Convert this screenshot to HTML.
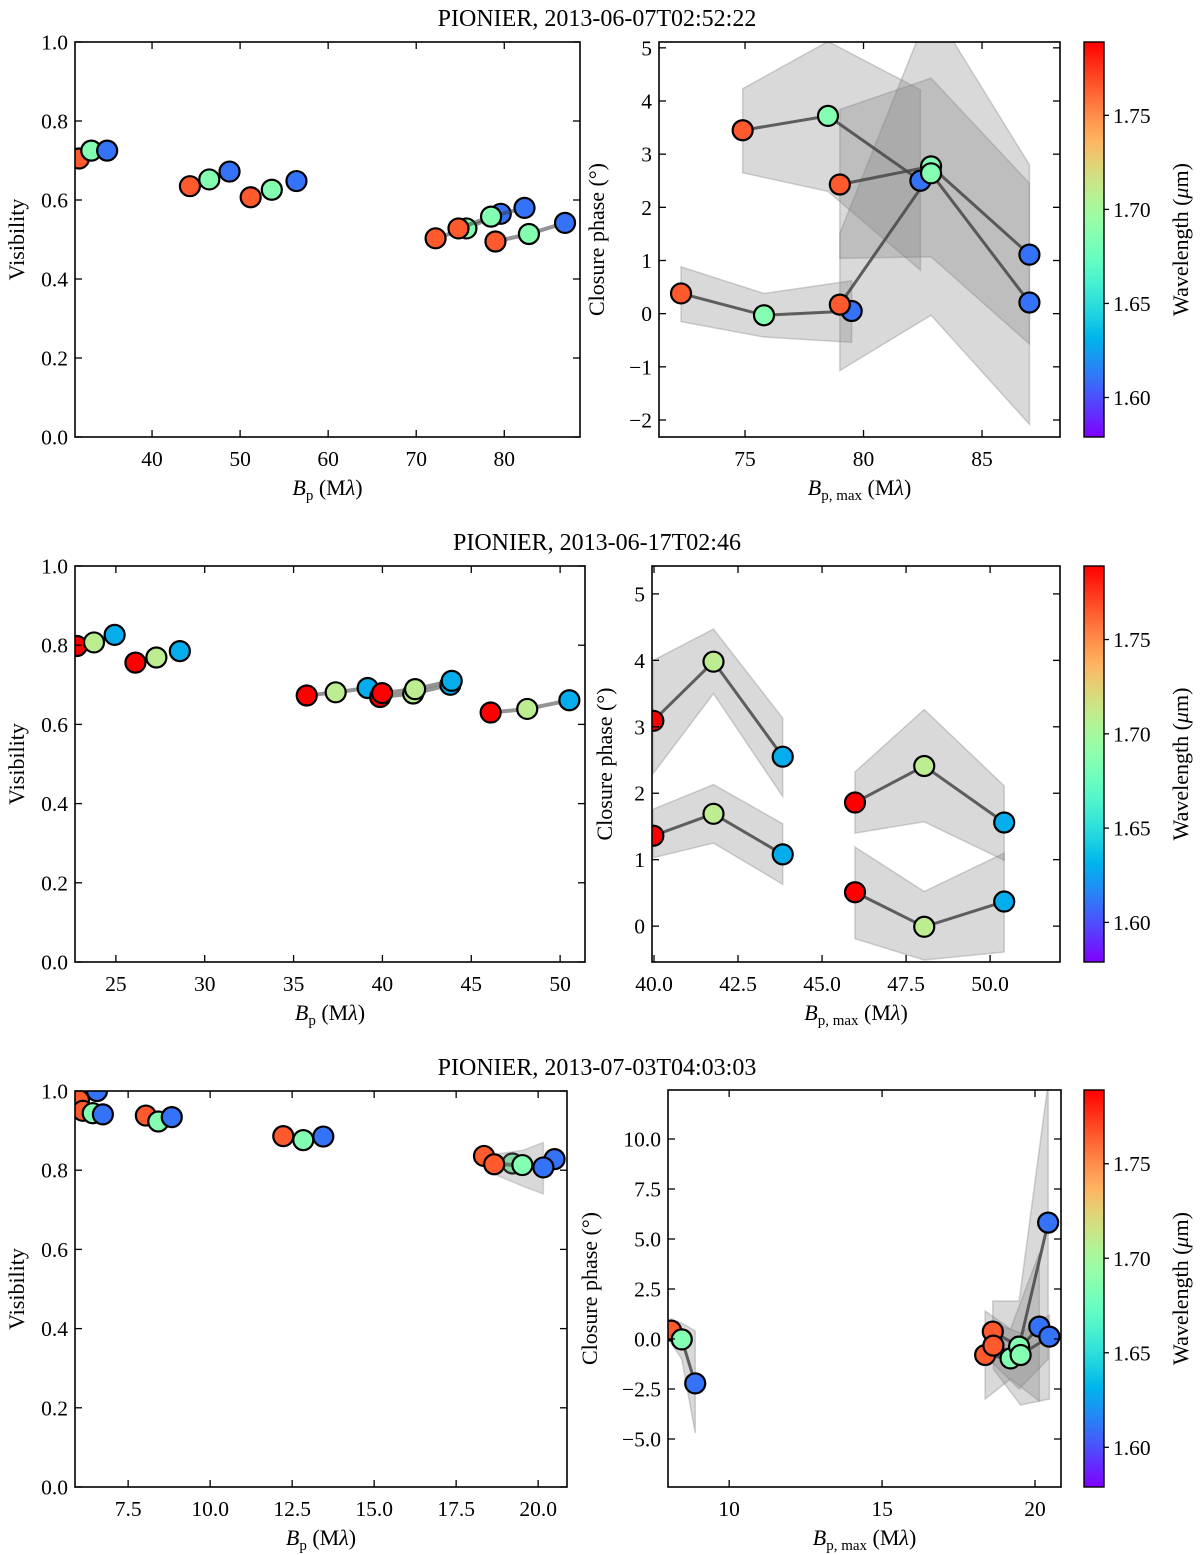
<!DOCTYPE html>
<html><head><meta charset="utf-8">
<style>
html,body{margin:0;padding:0;background:#fff;}
svg{display:block;font-family:"Liberation Serif","DejaVu Serif",serif;}
</style></head>
<body>
<svg id="fig" width="1200" height="1555" viewBox="0 0 1200 1555" xmlns="http://www.w3.org/2000/svg">
<defs id="defs"></defs>
<text x="597" y="26" font-size="24" text-anchor="middle">PIONIER, 2013-06-07T02:52:22</text>
<text x="597" y="550" font-size="24" text-anchor="middle">PIONIER, 2013-06-17T02:46</text>
<text x="597" y="1075" font-size="24" text-anchor="middle">PIONIER, 2013-07-03T04:03:03</text>
</svg>
<script>
// ---------- data ----------
const lamR1 = [1.765, 1.686, 1.610];
const lamR2 = [1.789, 1.709, 1.629];
const vis1B = [31.7,33.1,34.9, 44.3,46.5,48.8, 51.2,53.6,56.4, 72.2,75.7,79.6, 74.8,78.5,82.3, 79.0,82.8,86.9];
const vis1V = [0.705,0.725,0.725, 0.635,0.652,0.672, 0.607,0.626,0.648, 0.503,0.528,0.565, 0.528,0.558,0.580, 0.495,0.514,0.542];
const vis1Lines = [false,false,false,true,true,true];
const cp1B = [[72.3,75.8,79.5],[74.9,78.5,82.4],[79.0,82.85,87.0],[79.0,82.85,87.0]];
const cp1V = [[0.38,-0.03,0.05],[3.45,3.72,2.50],[2.43,2.77,1.11],[0.17,2.64,0.21]];
const cp1Hi = [[0.88,0.38,0.62],[4.23,5.12,4.21],[3.84,4.43,2.45],[1.51,5.8,2.8]];
const cp1Lo = [[-0.15,-0.44,-0.54],[2.65,2.30,0.82],[1.04,1.07,-0.57],[-1.07,-0.03,-2.08]];
const vis2B = [22.8,23.77,24.93, 26.1,27.28,28.6, 35.74,37.37,39.17, 39.87,41.73,43.82, 39.98,41.84,43.9, 46.09,48.15,50.52];
const vis2V = [0.798,0.807,0.826, 0.756,0.769,0.785, 0.673,0.681,0.692, 0.669,0.678,0.700, 0.679,0.689,0.710, 0.630,0.639,0.661];
const vis2Lines = [false,false,true,true,true,true];
const cp2B = [[39.98,41.77,43.83],[39.98,41.77,43.83],[45.98,48.04,50.42],[45.98,48.04,50.42]];
const cp2V = [[3.09,3.98,2.55],[1.36,1.69,1.08],[1.86,2.41,1.56],[0.51,-0.01,0.37]];
const cp2Hi = [[4.0,4.47,3.13],[1.76,2.13,1.54],[2.32,3.26,2.11],[1.19,0.52,1.10]];
const cp2Lo = [[2.3,3.5,1.95],[1.03,1.25,0.63],[1.40,1.57,0.99],[-0.19,-0.51,-0.39]];
const vis3B = [6.0,6.42,6.55, 6.12,6.42,6.73, 8.04,8.42,8.83, 12.23,12.84,13.45, 18.35,19.22,20.5, 18.66,19.52,20.16];
const vis3V = [0.977,0.944,1.0, 0.95,0.944,0.941, 0.938,0.923,0.934, 0.886,0.876,0.885, 0.836,0.817,0.828, 0.815,0.813,0.807];
const vis3Lines = [false,false,false,false,false,true];
const vis3BandHi = [0.84,0.85,0.87];
const vis3BandLo = [0.79,0.76,0.74];
const cp3B = [[8.1,8.45,8.89],[18.37,19.2,20.14],[18.62,19.48,20.43],[18.64,19.53,20.47]];
const cp3V = [[0.42,-0.02,-2.22],[-0.8,-0.97,0.62],[0.37,-0.38,5.82],[-0.33,-0.8,0.12]];
const cp3Hi = [[1.0,0.8,0.4],[1.4,0.5,4.3],[1.9,1.9,12.8],[0.8,0.3,1.2]];
const cp3Lo = [[-0.2,-1.0,-4.7],[-3.0,-2.0,-3.1],[-1.2,-2.5,-1.0],[-1.5,-3.3,-3.0]];

const lamMin = 1.579, lamMax = 1.789;
const cbTicks = [1.60,1.65,1.70,1.75];

// ---------- helpers ----------
const NS = "http://www.w3.org/2000/svg";
const svg = document.getElementById('fig');
const defs = document.getElementById('defs');
function mk(tag, attrs, parent){
  const e = document.createElementNS(NS, tag);
  for (const k in attrs) e.setAttribute(k, attrs[k]);
  (parent||svg).appendChild(e);
  return e;
}
function rainbow(l){
  let x = (l - lamMin)/(lamMax - lamMin); x = Math.max(0, Math.min(1, x));
  const r = Math.min(1, Math.abs(2*x - 0.5));
  const g = Math.sin(Math.PI*x);
  const b = Math.cos(Math.PI/2*x);
  const h = v => Math.round(Math.max(0,Math.min(1,v))*255);
  return `rgb(${h(r)},${h(g)},${h(b)})`;
}
function fmt(v, d){ return (v<0?"\u2212":"") + Math.abs(v).toFixed(d); }

function makePanel(p){
  p.sx = v => p.x0 + (v - p.xmin)/(p.xmax - p.xmin)*(p.x1 - p.x0);
  p.sy = v => p.y1 - (v - p.ymin)/(p.ymax - p.ymin)*(p.y1 - p.y0);
  const cp = mk('clipPath', {id: p.id + '-clip'}, defs);
  mk('rect', {x:p.x0, y:p.y0, width:p.x1-p.x0, height:p.y1-p.y0}, cp);
  const g = mk('g', {});
  
  
  p.g = g;
  p.plot = mk('g', {'clip-path': `url(#${p.id}-clip)`}, g);
  return p;
}
function drawAxes(p){
  const g = mk('g', {}, p.g);
  
  
  p.xticks.forEach(t => {
    const x = p.sx(t);
    mk('line', {x1:x, x2:x, y1:p.y1, y2:p.y1-7, stroke:'#000', 'stroke-width':1.3}, g);
    mk('line', {x1:x, x2:x, y1:p.y0, y2:p.y0+7, stroke:'#000', 'stroke-width':1.3}, g);
    const tx = mk('text', {x:x, y:p.y1+29, 'font-size':21.5, 'text-anchor':'middle'}, g);
    
    
    tx.textContent = fmt(t, p.xd);
  });
  p.yticks.forEach(t => {
    const y = p.sy(t);
    mk('line', {x1:p.x0, x2:p.x0+7, y1:y, y2:y, stroke:'#000', 'stroke-width':1.3}, g);
    mk('line', {x1:p.x1, x2:p.x1-7, y1:y, y2:y, stroke:'#000', 'stroke-width':1.3}, g);
    const ty = mk('text', {x:p.x0-7, y:y+7.5, 'font-size':21.5, 'text-anchor':'end'}, g);
    
    
    ty.textContent = fmt(t, p.yd);
  });
  mk('rect', {x:p.x0, y:p.y0, width:p.x1-p.x0, height:p.y1-p.y0, fill:'none', stroke:'#000', 'stroke-width':1.6}, g);
  const xl = mk('text', {x:(p.x0+p.x1)/2, y:p.y1+58, 'font-size':22, 'text-anchor':'middle'}, g);
  
  
  xl.innerHTML = p.cp
    ? '<tspan font-style="italic">B</tspan><tspan font-size="15" dy="5">p, max</tspan><tspan dy="-5"> (M</tspan><tspan font-style="italic">λ</tspan><tspan>)</tspan>'
    : '<tspan font-style="italic">B</tspan><tspan font-size="15" dy="5">p</tspan><tspan dy="-5"> (M</tspan><tspan font-style="italic">λ</tspan><tspan>)</tspan>';
  const yc = (p.y0+p.y1)/2;
  const yl = mk('text', {x:p.ylx, y:yc, 'font-size':22, 'text-anchor':'middle', transform:`rotate(-90 ${p.ylx} ${yc})`}, g);
  
  
  yl.textContent = p.cp ? 'Closure phase (°)' : 'Visibility';
}
function dot(p, x, y, col){
  const c = mk('circle', {cx:p.sx(x), cy:p.sy(y), r:10, fill:col, stroke:'#000', 'stroke-width':2.2}, p.plot);
  
  
}
function drawVis(p, B, V, lines, lam, band){
  for (let t = 0; t < B.length/3; t++){
    const xs = B.slice(t*3, t*3+3), ys = V.slice(t*3, t*3+3);
    if (band && t === B.length/3 - 1){
      const pts = xs.map((x,i)=>p.sx(x)+','+p.sy(band[0][i])).concat(xs.slice().reverse().map((x,i)=>p.sx(x)+','+p.sy(band[1][2-i])));
      const pg = mk('polygon', {points:pts.join(' '), fill:'rgba(128,128,128,0.3)', stroke:'rgba(128,128,128,0.3)', 'stroke-width':1.5}, p.plot);
      
      
    }
    if (lines[t]){
      const pl = mk('polyline', {points:xs.map((x,i)=>p.sx(x)+','+p.sy(ys[i])).join(' '), fill:'none', stroke:'rgba(60,60,60,0.55)', 'stroke-width':4}, p.plot);
      
      
    }
    xs.forEach((x,i)=>dot(p, x, ys[i], rainbow(lam[i])));
  }
}
function drawCP(p, B, V, Hi, Lo, lam){
  B.forEach((xs, t) => {
    const pts = xs.map((x,i)=>p.sx(x)+','+p.sy(Hi[t][i])).concat(xs.map((x,i)=>i).reverse().map(i=>p.sx(xs[i])+','+p.sy(Lo[t][i])));
    const pg = mk('polygon', {points:pts.join(' '), fill:'rgba(128,128,128,0.3)', stroke:'rgba(128,128,128,0.35)', 'stroke-width':1.5}, p.plot);
    
    
  });
  B.forEach((xs, t) => {
    const pl = mk('polyline', {points:xs.map((x,i)=>p.sx(x)+','+p.sy(V[t][i])).join(' '), fill:'none', stroke:'rgba(70,70,70,0.85)', 'stroke-width':3}, p.plot);
    
    
  });
  B.forEach((xs, t) => xs.forEach((x,i)=>dot(p, x, V[t][i], rainbow(lam[i]))));
}
function colorbar(id, y0, y1){
  const x0 = 1084, x1 = 1104;
  const gid = id + '-grad';
  const lg = mk('linearGradient', {id:gid, x1:0, y1:1, x2:0, y2:0}, defs);
  for (let i = 0; i <= 20; i++){
    const l = lamMin + (lamMax-lamMin)*i/20;
    mk('stop', {offset:(i/20), 'stop-color':rainbow(l)}, lg);
  }
  const g = mk('g', {});
  
  
  mk('rect', {x:x0, y:y0, width:x1-x0, height:y1-y0, fill:`url(#${gid})`, stroke:'#000', 'stroke-width':1.4}, g);
  const sy = l => y1 - (l-lamMin)/(lamMax-lamMin)*(y1-y0);
  cbTicks.forEach(t => {
    mk('line', {x1:x1, x2:x1+5, y1:sy(t), y2:sy(t), stroke:'#000', 'stroke-width':1.3}, g);
    const tx = mk('text', {x:x1+9, y:sy(t)+7.5, 'font-size':21.5}, g);
    
    
    tx.textContent = t.toFixed(2);
  });
  const yc = (y0+y1)/2;
  const lb = mk('text', {x:1188, y:yc, 'font-size':22, 'text-anchor':'middle', transform:`rotate(-90 1188 ${yc})`}, g);
  
  
  lb.innerHTML = 'Wavelength (<tspan font-style="italic">μ</tspan>m)';
}
const rng = (a,b,s) => { const r=[]; for (let v=a; v<=b+1e-9; v+=s) r.push(Math.round(v*100)/100); return r; };

// ---------- panels ----------
const p1 = makePanel({id:'visibility-panel-row1', x0:75, x1:580, y0:42, y1:437, xmin:31.25, xmax:88.6, ymin:0, ymax:1, xticks:rng(40,80,10), yticks:rng(0,1,0.2), xd:0, yd:1, ylx:24});
drawVis(p1, vis1B, vis1V, vis1Lines, lamR1); drawAxes(p1);
const p2 = makePanel({id:'closure-phase-panel-row1', x0:659, x1:1060, y0:42, y1:437, xmin:71.37, xmax:88.29, ymin:-2.32, ymax:5.11, xticks:[75,80,85], yticks:rng(-2,5,1), xd:0, yd:0, ylx:604, cp:true});
drawCP(p2, cp1B, cp1V, cp1Hi, cp1Lo, lamR1); drawAxes(p2);
colorbar('colorbar-row1', 42, 437);

const p3 = makePanel({id:'visibility-panel-row2', x0:75, x1:585, y0:566, y1:962, xmin:22.7, xmax:51.4, ymin:0, ymax:1, xticks:rng(25,50,5), yticks:rng(0,1,0.2), xd:0, yd:1, ylx:24});
drawVis(p3, vis2B, vis2V, vis2Lines, lamR2); drawAxes(p3);
const p4 = makePanel({id:'closure-phase-panel-row2', x0:652, x1:1060, y0:566, y1:962, xmin:39.94, xmax:52.08, ymin:-0.54, ymax:5.42, xticks:rng(40,50,2.5), yticks:rng(0,5,1), xd:1, yd:0, ylx:612, cp:true});
drawCP(p4, cp2B, cp2V, cp2Hi, cp2Lo, lamR2); drawAxes(p4);
colorbar('colorbar-row2', 566, 962);

const p5 = makePanel({id:'visibility-panel-row3', x0:75, x1:567, y0:1091, y1:1487, xmin:5.88, xmax:20.88, ymin:0, ymax:1, xticks:rng(7.5,20,2.5), yticks:rng(0,1,0.2), xd:1, yd:1, ylx:24});
drawVis(p5, vis3B, vis3V, vis3Lines, lamR1, [vis3BandHi, vis3BandLo]); drawAxes(p5);
const p6 = makePanel({id:'closure-phase-panel-row3', x0:668, x1:1061, y0:1090, y1:1487, xmin:8.0, xmax:20.85, ymin:-7.4, ymax:12.45, xticks:[10,15,20], yticks:rng(-5,10,2.5), xd:0, yd:1, ylx:597, cp:true});
drawCP(p6, cp3B, cp3V, cp3Hi, cp3Lo, lamR1); drawAxes(p6);
colorbar('colorbar-row3', 1090, 1487);
</script>
</body></html>
